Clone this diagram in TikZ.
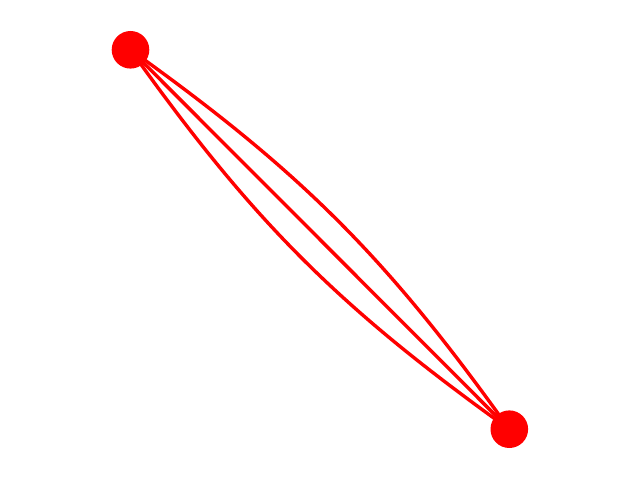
\documentclass[tikz,border=0pt]{standalone}
\begin{document}
\begin{tikzpicture}[x=1pt,y=1pt,
  vert/.style={circle,fill=red,inner sep=0pt,minimum size=37.6pt},
  edge/.style={draw=red,line width=3.4pt}]
\useasboundingbox (0,0) rectangle (640,480);
\coordinate (ca) at (130.5,430.2);
\coordinate (cb) at (509.3,50.8);
\draw[edge] (ca) -- (cb);
\draw[edge] (ca) to[bend left=9.5] (cb);
\draw[edge] (ca) to[bend right=9.5] (cb);
\node[vert] (a) at (ca) {};
\node[vert] (b) at (cb) {};
\end{tikzpicture}
\end{document}
